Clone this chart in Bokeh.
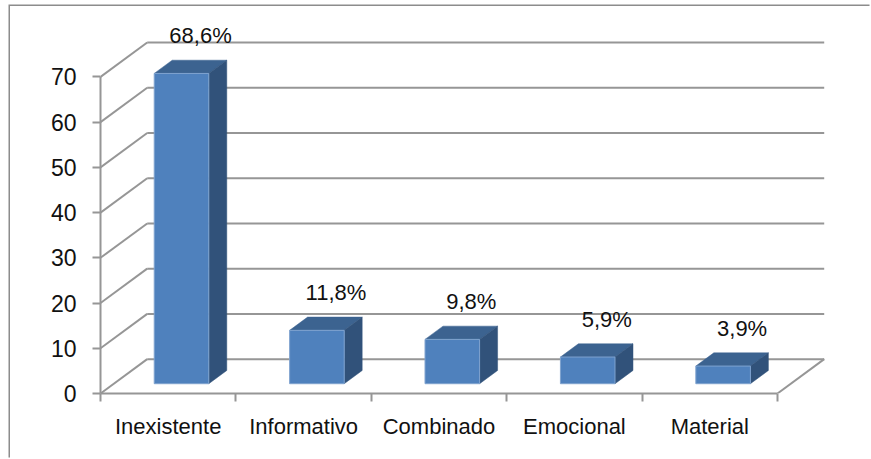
from bokeh.plotting import figure
from bokeh.embed import file_html
from bokeh.resources import INLINE
from bokeh.models import FixedTicker, Range1d
from bokeh.core.properties import value

categories = ["Inexistente", "Informativo", "Combinado", "Emocional", "Material"]
values = [68.6, 11.8, 9.8, 5.9, 3.9]
labels = ["68,6%", "11,8%", "9,8%", "5,9%", "3,9%"]
y_ticks = [0, 10, 20, 30, 40, 50, 60, 70]

FONT = "Liberation Sans"
GRID = "#969696"
FRONT = "#4F81BD"
TOP = "#3C6390"
SIDE = "#31527A"

# oblique projection of the 3D chart, in data units
DEPTH_X = 0.345
DEPTH_Y = 7.6
BAR_W = 0.403
BAR_DEPTH = 0.385
BAR_NEAR = 0.285

n = len(categories)
px_per_x = 135.4
px_per_y = 4.523
W, H = 861, 453
LEFT, TOP_B, BOTTOM = 90, 4, 66
x_end = (W - LEFT) / px_per_x
y_end = (H - TOP_B - BOTTOM) / px_per_y

p = figure(width=W, height=H, output_backend="svg", toolbar_location=None,
           x_range=Range1d(0, x_end), y_range=Range1d(0, y_end),
           min_border_left=LEFT, min_border_right=0, min_border_top=TOP_B, min_border_bottom=BOTTOM,
           outline_line_color=None, background_fill_color="white",
           margin=(6, 0, 0, 10),
           styles={"outline": "none", "box-shadow": "-1.5px -1.5px 0 0 #8C8C8C"})
p.grid.visible = False

# axes
ya = p.yaxis[0]
ya.ticker = FixedTicker(ticks=y_ticks)
ya.bounds = (0, 70)
ya.axis_line_color = GRID
ya.axis_line_width = 2
ya.major_tick_line_color = GRID
ya.major_tick_line_width = 2
ya.major_tick_out = 8
ya.major_tick_in = 0
ya.minor_tick_out = 0
ya.minor_tick_in = 0
ya.major_label_standoff = 16
ya.major_label_text_font = FONT
ya.major_label_text_font_size = "23px"
ya.major_label_text_color = "#111111"

xa = p.xaxis[0]
centers = [i + 0.5 for i in range(n)]
xa.ticker = FixedTicker(ticks=centers, minor_ticks=list(range(n + 1)))
xa.major_label_overrides = {c: t for c, t in zip(centers, categories)}
xa.bounds = (0, n)
xa.axis_line_color = GRID
xa.axis_line_width = 2
xa.major_tick_out = 0
xa.major_tick_in = 0
xa.minor_tick_line_color = GRID
xa.minor_tick_line_width = 2
xa.minor_tick_out = 8
xa.minor_tick_in = 0
xa.major_label_standoff = 12
xa.major_label_text_font = FONT
xa.major_label_text_font_size = "22px"
xa.major_label_text_color = "#111111"

# back wall gridlines, side wall and floor edge
p.segment(x0=[DEPTH_X] * len(y_ticks), x1=[n + DEPTH_X] * len(y_ticks),
          y0=[t + DEPTH_Y for t in y_ticks], y1=[t + DEPTH_Y for t in y_ticks],
          line_color=GRID, line_width=2)
p.segment(x0=[0] * len(y_ticks), x1=[DEPTH_X] * len(y_ticks),
          y0=y_ticks, y1=[t + DEPTH_Y for t in y_ticks],
          line_color=GRID, line_width=2)
p.segment(x0=[n], x1=[n + DEPTH_X], y0=[0], y1=[DEPTH_Y], line_color=GRID, line_width=2)

# bars
l = [c - BAR_W / 2 + BAR_NEAR * DEPTH_X for c in centers]
r = [a + BAR_W for a in l]
b0 = BAR_NEAR * DEPTH_Y
t = [v + b0 for v in values]
ddx = BAR_DEPTH * DEPTH_X
ddy = BAR_DEPTH * DEPTH_Y

p.patches(xs=[[a, a + ddx, b + ddx, b] for a, b in zip(l, r)],
          ys=[[v, v + ddy, v + ddy, v] for v in t],
          fill_color=TOP, line_color=TOP, line_width=0.5)
p.patches(xs=[[b, b + ddx, b + ddx, b] for b in r],
          ys=[[b0, b0 + ddy, v + ddy, v] for v in t],
          fill_color=SIDE, line_color=SIDE, line_width=0.5)
p.quad(left=l, right=r, bottom=[b0] * n, top=t,
       fill_color=FRONT, line_color="#7FA3CF", line_width=1)

# value labels
p.text(x=[(a + b) / 2 for a, b in zip(l, r)], y=t, text=labels,
       x_offset=19, y_offset=-38, text_align="center", text_baseline="middle",
       text_font=value(FONT), text_font_size="22px", text_color="#111111")

open("out.html", "w").write(file_html(p, INLINE))
